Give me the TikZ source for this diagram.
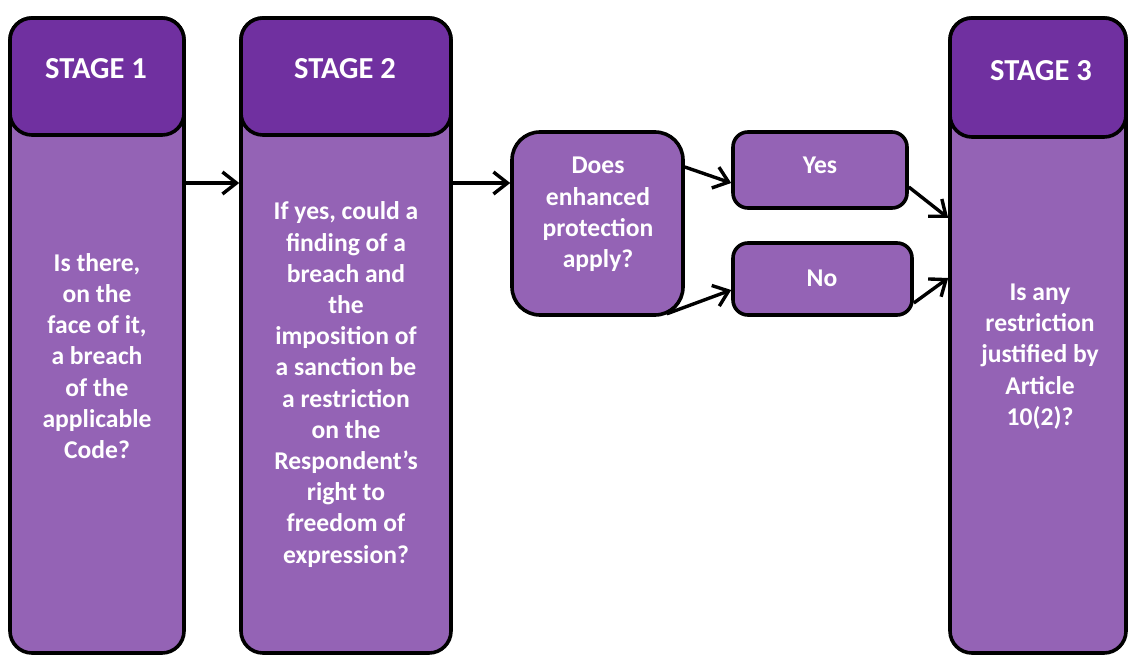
\documentclass[tikz,border=0pt]{standalone}
\usepackage{fontspec}
\setmainfont{Carlito}
\usetikzlibrary{arrows.meta}
\definecolor{headpurple}{RGB}{112,48,160}
\definecolor{bodypurple}{RGB}{148,99,181}
\tikzset{
  colbody/.style={draw=black, line width=3.6pt, fill=bodypurple, rounded corners=22pt, inner sep=0pt},
  colhead/.style={draw=black, line width=3.6pt, fill=headpurple, rounded corners=22pt, inner sep=0pt},
  smallbox/.style={draw=black, line width=3.6pt, fill=bodypurple, rounded corners=15pt, inner sep=0pt},
  decbox/.style={draw=black, line width=3.6pt, fill=bodypurple, rounded corners=28pt, inner sep=0pt},
  txt/.style={text=white, font=\bfseries\fontsize{25.6}{31.2}\selectfont, align=center, inner sep=0pt},
  headtxt/.style={text=white, font=\bfseries\fontsize{30.5}{36}\selectfont, align=center, inner sep=0pt},
  arr/.style={draw=black, line width=3.4pt, -{Straight Barb[length=14pt,width=22pt,line width=3.4pt]}}
}
\begin{document}
\begin{tikzpicture}[x=1pt,y=-1pt]
\useasboundingbox (0,0) rectangle (1129,655);
% Stage 1
\node[colbody, minimum width=174pt, minimum height=635pt] (s1) at (97,335.5) {};
\node[colhead, minimum width=174pt, minimum height=117pt] (h1) at (97,76.5) {};
\node[headtxt] (h1t) at (96,69) {STAGE 1};
\node[txt] (s1t) at (97,356) {Is there,\\on the\\face of it,\\a breach\\of the\\applicable\\Code?};
% Stage 2
\node[colbody, minimum width=210pt, minimum height=635pt] (s2) at (346,335.5) {};
\node[colhead, minimum width=210pt, minimum height=117pt] (h2) at (346,76.5) {};
\node[headtxt] (h2t) at (345,69) {STAGE 2};
\node[txt] (s2t) at (346,384.5) {If yes, could a\\finding of a\\breach and\\the\\imposition of\\a sanction be\\a restriction\\on the\\Respondent’s\\right to\\freedom of\\expression?};
% Stage 3
\node[colbody, minimum width=176pt, minimum height=635pt] (s3) at (1038,335.5) {};
\node[colhead, minimum width=176pt, minimum height=119pt] (h3) at (1038,77.5) {};
\node[headtxt] (h3t) at (1041,71) {STAGE 3};
\node[txt] (s3t) at (1040,356.5) {Is any\\restriction\\justified by\\Article\\10(2)?};
% Decision
\node[decbox, minimum width=171pt, minimum height=183pt] (dec) at (597.5,223.5) {};
\node[txt] (dect) at (598,214.5) {Does\\enhanced\\protection\\apply?};
% Yes / No
\node[smallbox, minimum width=174pt, minimum height=76pt] (yes) at (820,170) {};
\node[txt] (yest) at (820,165) {Yes};
\node[smallbox, minimum width=179pt, minimum height=72pt] (no) at (822.5,279) {};
\node[txt] (not) at (822,278) {No};
% Connectors
\coordinate (r1) at (0,183);
\coordinate (r3a) at (0,218);
\coordinate (r3b) at (0,278);
\draw[arr] (s1.east |- r1) -- (s2.west |- r1);
\draw[arr] (s2.east |- r1) -- (dec.west |- r1);
\draw[arr] ([yshift=56.5pt]dec.east) -- ([yshift=-13pt]yes.west);
\draw[arr] ([xshift=-18pt,yshift=3pt]dec.south east) -- ([yshift=-11pt]no.west);
\draw[arr] ([yshift=-17pt]yes.east) -- (s3.west |- r3a);
\draw[arr] ([yshift=-24pt]no.east) -- (s3.west |- r3b);
\end{tikzpicture}
\end{document}
